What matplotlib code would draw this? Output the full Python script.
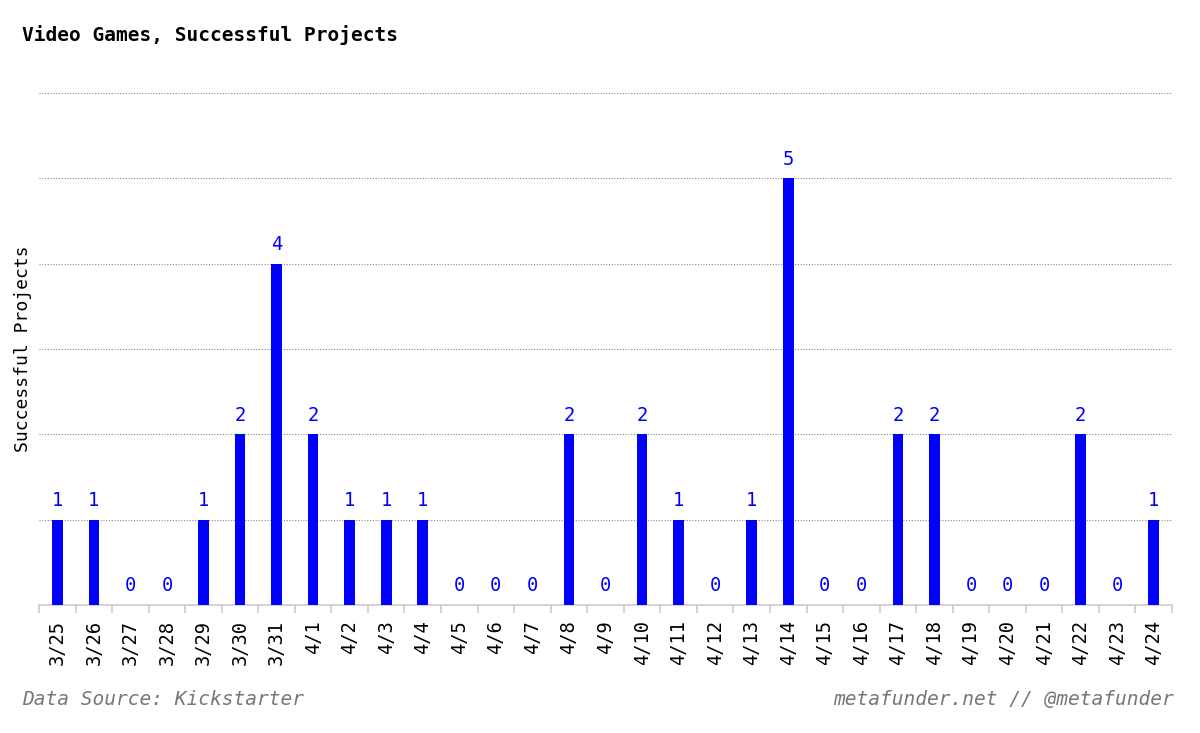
import numpy as np
import matplotlib.pyplot as plt

days = ['3/25', '3/26', '3/27', '3/28', '3/29', '3/30', '3/31', '4/1', '4/2', '4/3',
        '4/4', '4/5', '4/6', '4/7', '4/8', '4/9', '4/10', '4/11', '4/12', '4/13',
        '4/14', '4/15', '4/16', '4/17', '4/18', '4/19', '4/20', '4/21', '4/22', '4/23', '4/24']
projects = [1, 1, 0, 0, 1, 2, 4, 2, 1, 1,
            1, 0, 0, 0, 2, 0, 2, 1, 0, 1,
            5, 0, 0, 2, 2, 0, 0, 0, 2, 0, 1]

mono = ['DejaVu Sans Mono']
blue = '#0000ff'

fig = plt.figure(figsize=(12, 7.33), dpi=100)
ax = fig.add_axes([0.0325, 0.1746, 0.9442, 0.6985])

x = np.arange(len(days))
ax.bar(x, projects, width=0.29, color=blue, zorder=3)
for xi, v in zip(x, projects):
    ax.annotate(str(v), (xi, v), xytext=(0, 7), textcoords='offset points',
                ha='center', va='bottom', color=blue, fontsize=13.5, family=mono)

ax.set_xlim(-0.5, len(days) - 0.5)
ax.set_ylim(0, 6)

# dotted horizontal grid
for g in range(1, 7):
    ax.axhline(g, color='#888888', linestyle=(0, (1, 1.5)), linewidth=0.8, zorder=1)

for s in ['top', 'right', 'left']:
    ax.spines[s].set_visible(False)
ax.spines['bottom'].set_color('#cccccc')
ax.spines['bottom'].set_linewidth(1.2)

ax.set_yticks([])
ax.set_xticks(x)
ax.set_xticklabels(days, rotation=90, fontsize=13.5, family=mono, va='top', ha='center')
ax.tick_params(axis='x', which='major', length=0, pad=11)
ax.set_xticks(np.arange(-0.5, len(days), 1.0), minor=True)
ax.tick_params(axis='x', which='minor', length=6, color='#cccccc', width=1.2)

ax.set_ylabel('Successful Projects', fontsize=13, family=mono)
ax.yaxis.set_label_coords(-0.006, 0.5)

fig.text(0.018, 0.952, 'Video Games, Successful Projects', fontsize=14,
         fontweight='bold', family=mono, ha='left', va='center')
fig.text(0.018, 0.046, 'Data Source: Kickstarter', fontsize=14, style='italic',
         color='#777777', family=mono, ha='left', va='center')
fig.text(0.978, 0.046, 'metafunder.net // @metafunder', fontsize=14, style='italic',
         color='#777777', family=mono, ha='right', va='center')

fig.savefig('out.png', dpi=100)
